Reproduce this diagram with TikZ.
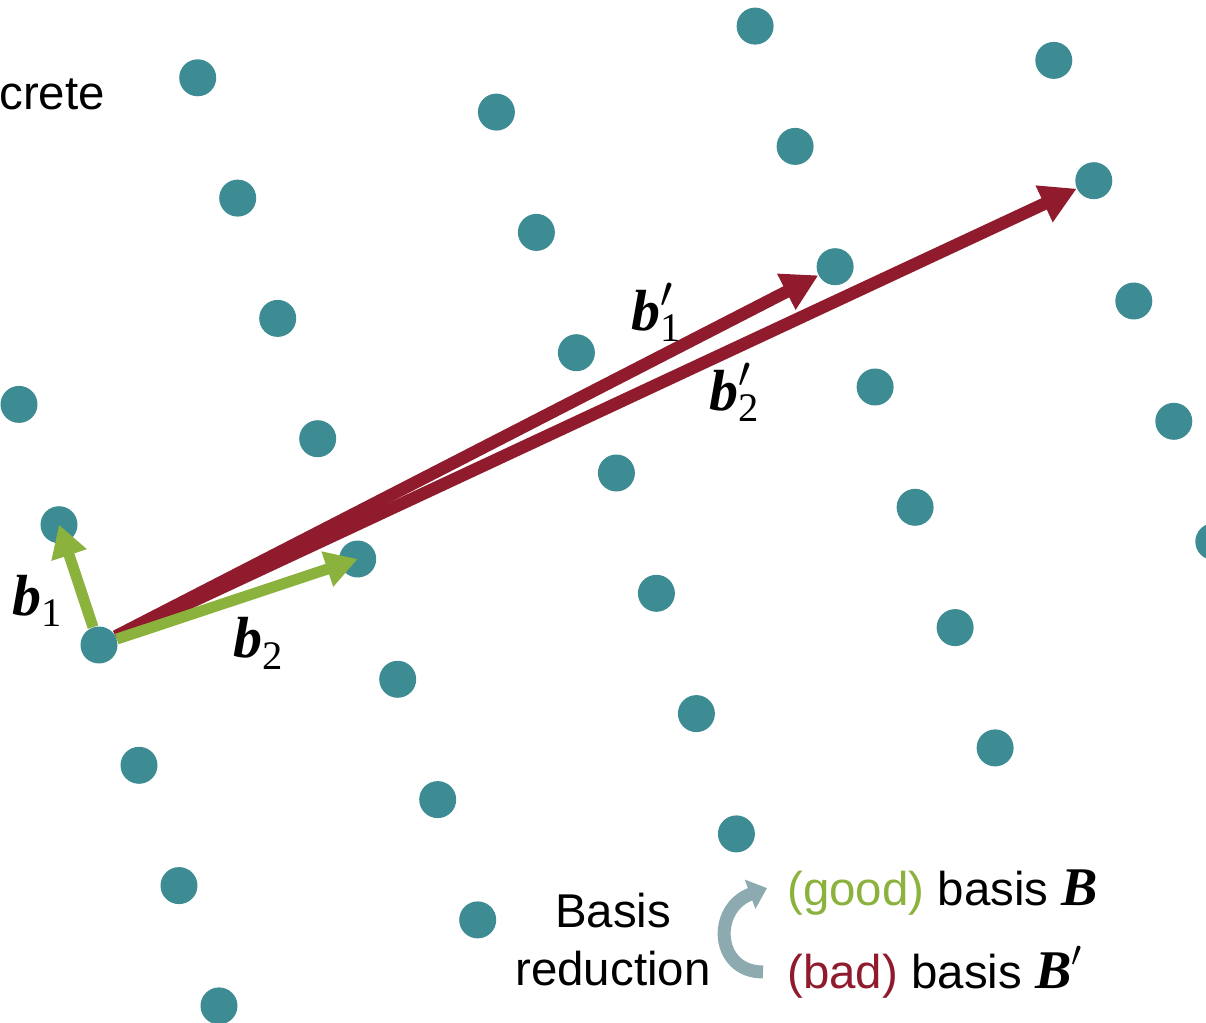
\documentclass[tikz,border=0pt]{standalone}
\usepackage{fontspec}
\setmainfont{Liberation Sans}
\newfontfamily\vecfont{Liberation Serif}
\usepackage{amsmath}
\usetikzlibrary{arrows.meta, calc}
\definecolor{latteal}{RGB}{62,140,147}
\definecolor{latgreen}{RGB}{139,178,61}
\definecolor{latred}{RGB}{143,27,45}
\definecolor{latgray}{RGB}{140,170,176}
\newcommand\bvec[1]{\text{\vecfont\bfseries\itshape #1}}
\newcommand\vsub[1]{\text{\vecfont #1}}
\tikzset{
  %% ---- lattice points ----
  dot/.style     = {circle, fill=latteal, inner sep=0pt, minimum size=0.74cm},
  %% ---- vectors ----
  goodvec/.style = {-{Triangle[length=0.64cm, width=0.7cm]},
                    line width=0.22cm, color=latgreen},
  badvec/.style  = {-{Triangle[length=0.72cm, width=0.76cm]},
                    line width=0.25cm, color=latred},
  reduce/.style  = {-{Triangle[length=0.36cm, width=0.6cm]},
                    line width=0.26cm, color=latgray},
  %% ---- text ----
  txt/.style     = {inner sep=0pt, font=\fontsize{27}{32}\selectfont},
  veclbl/.style  = {inner sep=0pt, font=\fontsize{33}{38}\selectfont},
}
\begin{document}
\begin{tikzpicture}[x=0.02cm, y=-0.02cm]
  \useasboundingbox (0,0) rectangle (1206,1023);

  % lattice: origin (99,645), b1 = (-40,-120.3), b2 = (258.7,-86)
  \begin{scope}
    \clip (0,0) rectangle (1206,1023);
    \foreach \j in {0,...,4}
      \foreach \k in {0,...,7}{
        \pgfmathsetmacro\py{645-86*\j-120.3*(\k-3)}
        \ifdim\py pt>0pt
          \node[dot] (p\j\k) at ({99+258.7*\j-40*(\k-3)}, \py) {};
        \fi
      }
  \end{scope}

  \node[txt, anchor=base west] (title) at (-1,110) {crete};

  % bad basis first, good basis on top
  \draw[badvec] (p03) -- (p34);
  \draw[badvec] (p03) -- (p44);
  \draw[goodvec] (p03) -- (p04.center);
  \draw[goodvec] (p03) -- (p13.center);

  \node[veclbl] (lb1)  at (38,601)  {$\bvec{b}_{\vsub{1}}$};
  \node[veclbl] (lb2)  at (259,643) {$\bvec{b}_{\vsub{2}}$};
  \node[veclbl] (lb1p) at (657,312) {$\bvec{b}'_{\vsub{1}}$};
  \node[veclbl] (lb2p) at (735,392) {$\bvec{b}'_{\vsub{2}}$};

  % legend
  \node[txt, anchor=base] (basis) at (613,927) {Basis};
  \node[txt, anchor=base] (reduc) at (613,985) {reduction};
  \node[txt, anchor=base west] (good) at (787,905)
    {\textcolor{latgreen}{(good)} basis {\fontsize{31}{32}\selectfont$\bvec{B}$}};
  \node[txt, anchor=base west] (bad) at (787,988)
    {\textcolor{latred}{(bad)} basis {\fontsize{31}{32}\selectfont$\bvec{B}'$}};

  \draw[reduce] ($(bad.west)+(-24,0)$) .. controls +(-48,0) and +(-55,20)
    .. ($(good.west)+(-20,-4)$);

\end{tikzpicture}
\end{document}
